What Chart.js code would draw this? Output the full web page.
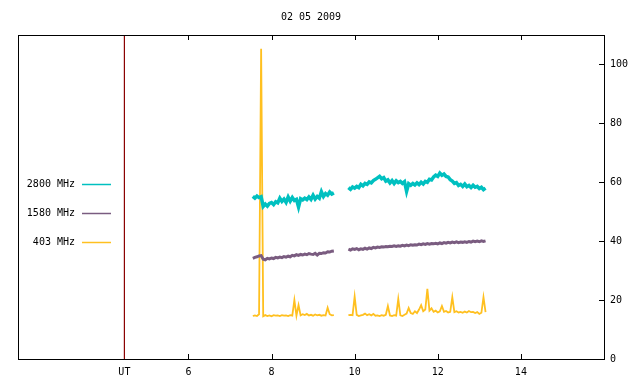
<!DOCTYPE html>
<html>
<head>
<meta charset="utf-8">
<script src="https://cdn.jsdelivr.net/npm/chart.js@4/dist/chart.umd.min.js"></script>
<style>
  html, body { margin: 0; padding: 0; background: #fff; }
  canvas { display: block; }
</style>
</head>
<body>
<canvas id="chart" width="640" height="384"></canvas>
<script>
// --- data (hours UT, flux units) ---
const title = '02 05 2009';
const utTime = 4.46;
const xTicks = [4.46, 6, 8, 10, 12, 14];
const xTickLabels = ['UT', '6', '8', '10', '12', '14'];
const yTicks = [0, 20, 40, 60, 80, 100];

const times = [
  7.55, 7.60, 7.65, 7.70, 7.75, 7.80, 7.85, 7.90, 7.95, 8.00,
  8.05, 8.10, 8.15, 8.20, 8.25, 8.30, 8.35, 8.40, 8.45, 8.50,
  8.55, 8.60, 8.65, 8.70, 8.75, 8.80, 8.85, 8.90, 8.95, 9.00,
  9.05, 9.10, 9.15, 9.20, 9.25, 9.30, 9.35, 9.40, 9.45, 9.50,
  9.68,
  9.85, 9.90, 9.95, 10.00, 10.05, 10.10, 10.15, 10.20, 10.25, 10.30,
  10.35, 10.40, 10.45, 10.50, 10.55, 10.60, 10.65, 10.70, 10.75, 10.80,
  10.85, 10.90, 10.95, 11.00, 11.05, 11.10, 11.15, 11.20, 11.25, 11.30,
  11.35, 11.40, 11.45, 11.50, 11.55, 11.60, 11.65, 11.70, 11.75, 11.80,
  11.85, 11.90, 11.95, 12.00, 12.05, 12.10, 12.15, 12.20, 12.25, 12.30,
  12.35, 12.40, 12.45, 12.50, 12.55, 12.60, 12.65, 12.70, 12.75, 12.80,
  12.85, 12.90, 12.95, 13.00, 13.05, 13.10, 13.15
];

const flux2800 = [
  55.2, 54.6, 55.3, 54.8, 55.1, 51.8, 52.6, 51.9, 52.8, 53.1,
  52.4, 53.4, 53.0, 54.6, 53.5, 54.3, 53.2, 55.0, 53.6, 54.8,
  53.8, 54.2, 51.6, 54.4, 54.0, 54.6, 54.1, 55.0, 54.2, 55.6,
  54.3, 55.2, 54.6, 56.8, 55.2, 56.2, 55.6, 56.7, 56.0, 56.4,
  null,
  58.2, 57.6, 58.4, 58.0, 58.6, 58.2, 59.3, 58.8, 59.6, 59.3,
  60.1, 59.8, 60.6, 61.0, 61.5, 62.0, 61.2, 61.6, 60.4, 60.8,
  59.8, 60.6, 59.6, 60.5, 59.9, 60.3, 59.6, 60.2, 56.9, 59.5,
  59.0, 59.6, 59.1, 59.8, 59.2, 60.0, 59.4, 60.3, 60.0, 61.0,
  60.8, 61.8, 62.4, 62.0, 63.1, 62.4, 62.8, 62.0, 61.8, 60.9,
  60.4, 59.6, 59.9, 58.9, 59.3, 58.6, 59.4, 58.5, 58.9, 58.2,
  59.0, 58.3, 58.6, 57.9, 58.3, 57.5, 58.0
];

const flux1580 = [
  34.2, 34.5, 34.7, 35.0, 35.1, 33.9, 33.7, 34.2, 34.0, 34.3,
  34.1, 34.5, 34.3, 34.6, 34.4, 34.8, 34.6, 34.9, 34.7, 35.2,
  35.0, 35.4, 35.2, 35.5, 35.3, 35.6, 35.4, 35.8, 35.6, 35.5,
  35.9, 35.3, 35.9, 35.8, 36.1, 36.0, 36.4, 36.3, 36.6, 36.7,
  null,
  37.3, 37.0, 37.4, 37.2, 37.5, 37.1, 37.4, 37.2, 37.6, 37.3,
  37.7, 37.5, 37.9, 37.7, 38.0, 37.9, 38.1, 38.0, 38.2, 38.1,
  38.3, 38.2, 38.4, 38.2, 38.4, 38.3, 38.6, 38.4, 38.7, 38.5,
  38.8, 38.6, 38.8, 38.7, 39.0, 38.8, 39.1, 38.9, 39.2, 39.0,
  39.2, 39.1, 39.3, 39.1, 39.4, 39.2, 39.5, 39.3, 39.6, 39.4,
  39.7, 39.5, 39.8, 39.5, 39.7, 39.6, 39.8, 39.6, 39.9, 39.7,
  40.0, 39.8, 40.0, 39.8, 40.1, 39.9, 40.1
];

const flux403 = [
  14.6, 14.8, 14.6, 15.2, 105.3, 14.5, 14.9, 14.6, 14.8, 14.5,
  14.9, 14.7, 14.8, 14.6, 14.9, 14.7, 14.8, 14.6, 14.9, 14.7,
  20.0, 14.7, 18.3, 14.8, 15.2, 14.9, 15.3, 14.8, 15.0, 14.7,
  15.1, 14.8, 15.0, 14.7, 14.9, 14.8, 17.4, 15.2, 14.8, 14.9,
  null,
  14.9, 15.0, 14.9, 21.2, 15.0, 14.6, 14.8, 15.0, 15.4, 14.9,
  15.2, 14.8, 15.3, 14.7, 14.8, 14.6, 14.9, 14.7, 15.0, 18.0,
  14.8, 14.6, 14.9, 14.7, 20.4, 14.8, 14.6, 15.0, 15.4, 17.3,
  15.6, 15.3, 16.2, 15.6, 16.8, 18.3, 16.2, 16.8, 23.8, 16.4,
  17.2, 16.0, 16.4, 15.8, 16.2, 18.0, 16.0, 16.3, 15.8, 16.0,
  21.0, 15.9, 16.2, 15.8, 16.0, 15.7, 16.1, 15.8, 16.3, 15.9,
  16.0, 15.6, 15.9, 15.3, 15.7, 21.0, 15.9
];

const FONT = '10px "DejaVu Sans Mono", monospace';

function toPoints(values) {
  return times.map((t, i) => ({ x: t, y: values[i] }));
}

// frame, inward ticks, title and the left-side key
const decorations = {
  id: 'decorations',
  afterDraw(chart) {
    const ctx = chart.ctx;
    const a = chart.chartArea;
    const xs = chart.scales.x;
    const ys = chart.scales.y;
    ctx.save();
    ctx.strokeStyle = '#000';
    ctx.lineWidth = 1;
    ctx.strokeRect(a.left + 0.5, a.top + 0.5, a.right - a.left, a.bottom - a.top);
    ctx.beginPath();
    xTicks.forEach(v => {
      if (v === utTime) return;
      const px = Math.round(xs.getPixelForValue(v)) + 0.5;
      ctx.moveTo(px, a.bottom); ctx.lineTo(px, a.bottom - 5);
      ctx.moveTo(px, a.top); ctx.lineTo(px, a.top + 5);
    });
    yTicks.forEach(v => {
      const py = Math.round(ys.getPixelForValue(v)) + 0.5;
      ctx.moveTo(a.right, py); ctx.lineTo(a.right - 5, py);
    });
    ctx.stroke();

    ctx.font = FONT;
    ctx.fillStyle = '#000';
    ctx.textAlign = 'center';
    ctx.textBaseline = 'middle';
    ctx.fillText(title, (a.left + a.right) / 2, 17);

    // key
    const keyRows = [184.5, 213.5, 242.5];
    chart.data.datasets.filter(d => d.label).forEach((d, i) => {
      const y = keyRows[i];
      ctx.textAlign = 'right';
      ctx.fillStyle = '#000';
      ctx.fillText(d.label, 75, y);
      ctx.strokeStyle = d.borderColor;
      ctx.lineWidth = 1.5;
      ctx.beginPath();
      ctx.moveTo(82, y); ctx.lineTo(111, y);
      ctx.stroke();
    });
    ctx.restore();
  }
};

new Chart(document.getElementById('chart'), {
  type: 'line',
  data: {
    datasets: [
      {
        label: '',
        data: [{ x: utTime, y: 0 }, { x: utTime, y: 110 }],
        borderColor: '#8b0000',
        borderWidth: 1.2
      },
      {
        label: '2800 MHz',
        data: toPoints(flux2800),
        borderColor: '#00c0c0',
        borderWidth: 3.5
      },
      {
        label: '1580 MHz',
        data: toPoints(flux1580),
        borderColor: '#7a5c80',
        borderWidth: 3
      },
      {
        label: '403 MHz',
        data: toPoints(flux403),
        borderColor: '#ffc020',
        borderWidth: 1.8
      }
    ]
  },
  options: {
    responsive: false,
    animation: false,
    spanGaps: false,
    elements: {
      point: { radius: 0 },
      line: { tension: 0, borderJoinStyle: 'miter' }
    },
    layout: { padding: { left: 18, top: 35, right: 0, bottom: 0 } },
    plugins: {
      legend: { display: false },
      title: { display: false },
      tooltip: { enabled: false }
    },
    scales: {
      x: {
        type: 'linear',
        min: 1.9,
        max: 16,
        grid: { display: false, drawTicks: false },
        border: { display: false },
        afterBuildTicks: scale => { scale.ticks = xTicks.map(v => ({ value: v })); },
        afterFit: scale => { scale.height = 25; },
        ticks: {
          autoSkip: false,
          maxRotation: 0,
          padding: 7,
          color: '#000',
          font: { family: '"DejaVu Sans Mono", monospace', size: 10 },
          callback: (value, index) => xTickLabels[index]
        }
      },
      y: {
        position: 'right',
        min: 0,
        max: 110,
        grid: { display: false, drawTicks: false },
        border: { display: false },
        afterBuildTicks: scale => { scale.ticks = yTicks.map(v => ({ value: v })); },
        afterFit: scale => { scale.width = 36; },
        ticks: {
          padding: 6,
          color: '#000',
          font: { family: '"DejaVu Sans Mono", monospace', size: 10 }
        }
      }
    }
  },
  plugins: [decorations]
});
</script>
</body>
</html>
